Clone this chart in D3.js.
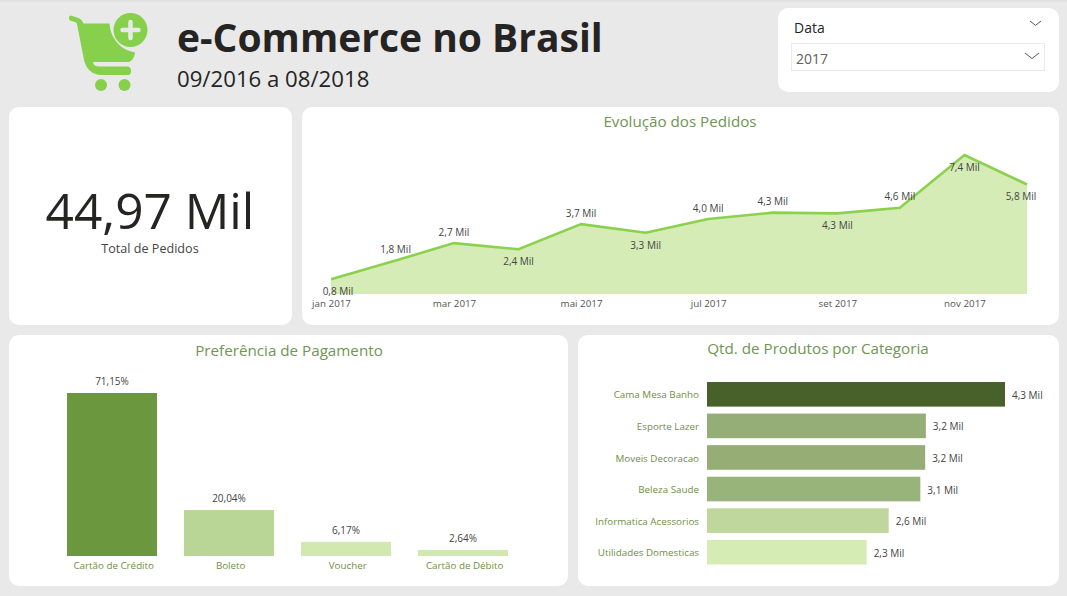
<!DOCTYPE html>
<html>
<head>
<meta charset="utf-8">
<script src="https://d3js.org/d3.v7.min.js"></script>
<style>
  html, body {margin: 0; padding: 0; background: #e9e9e9;}
  svg {display: block; font-family: "Open Sans", sans-serif;}
  .card {fill: #fff;}
  .chartTitle {fill: #6f9653; font-size: 15.2px; text-anchor: middle;}
  .valueLabel {fill: #444; font-size: 10px;}
  .axis path, .axis line {display: none;}
  .axis text {font-family: "Open Sans", sans-serif; font-size: 9.8px;}
</style>
</head>
<body>
<svg id="chart" width="1067" height="596"></svg>
<script>
// dados
var meses = ["2017-01","2017-02","2017-03","2017-04","2017-05","2017-06","2017-07","2017-08","2017-09","2017-10","2017-11","2017-12"];
var pedidos = [0.79, 1.78, 2.71, 2.38, 3.72, 3.26, 3.99, 4.33, 4.29, 4.59, 7.40, 5.83];
var pagamentos = ["Cartão de Crédito", "Boleto", "Voucher", "Cartão de Débito"];
var pagamentosPct = [71.15, 20.04, 6.17, 2.64];
var categorias = ["Cama Mesa Banho", "Esporte Lazer", "Moveis Decoracao", "Beleza Saude", "Informatica Acessorios", "Utilidades Domesticas"];
var categoriasQtd = [4.33, 3.18, 3.17, 3.10, 2.64, 2.32];
var nomesMeses = ["jan","fev","mar","abr","mai","jun","jul","ago","set","out","nov","dez"];

var svg = d3.select("#chart");
var virgula = function(v, casas) { return v.toFixed(casas).replace(".", ","); };
var mil = function(v) { return virgula(v, 1) + " Mil"; };

svg.append("rect").attr("width", 1067).attr("height", 2).attr("fill", "#e2e2e2");

// cartoes de fundo
function card(x, y, w, h) {
  svg.append("rect").attr("class", "card").attr("x", x).attr("y", y).attr("width", w).attr("height", h).attr("rx", 10);
}
card(9, 107, 283, 218);
card(302, 107, 757, 218);
card(9, 335, 559, 251);
card(578, 335, 481, 251);
card(778, 8, 281, 84);

// icone do carrinho
var icone = svg.append("g").attr("fill", "#86d04c");
icone.append("path")
  .attr("d", "M71 15.5 L79 18.3 Q82.5 19.7 83.5 23.5 L109.5 23.5 Q110 37 121 46.5 Q127 51 135 52.5 Q134 60 129 62 L93 62 L93.5 64 Q95 66.5 99 66.5 L128 66.5 Q131 67 131 71 Q131 75 128 75 L102 75 Q88 75 84 60 L77 24 Q76.5 22.5 75 22 L70 20.5 Q68.5 19 69 17 Q70 15 71 15.5 Z");
icone.append("circle").attr("cx", 130.5).attr("cy", 30).attr("r", 17);
icone.append("circle").attr("cx", 101).attr("cy", 85).attr("r", 6);
icone.append("circle").attr("cx", 124.5).attr("cy", 85).attr("r", 6);
svg.append("path").attr("d", "M130.5 22 V38 M122.5 30 H138.5")
  .attr("stroke", "#e9e9e9").attr("stroke-width", 4.5).attr("stroke-linecap", "round");

// cabecalho
svg.append("text").attr("x", 177).attr("y", 52).attr("font-size", 39).attr("font-weight", 700).attr("fill", "#252423").text("e-Commerce no Brasil");
svg.append("text").attr("x", 177).attr("y", 87).attr("font-size", 22.2).attr("fill", "#252423").text("09/2016 a 08/2018");

// filtro de data
svg.append("text").attr("x", 794).attr("y", 33).attr("font-size", 14).attr("fill", "#252423").text("Data");
svg.append("rect").attr("x", 791.5).attr("y", 43.5).attr("width", 253).attr("height", 27).attr("fill", "#fff").attr("stroke", "#eaeaea");
svg.append("text").attr("x", 796).attr("y", 64).attr("font-size", 14).attr("fill", "#605e5c").text("2017");
svg.selectAll(".chevron").data([[1030, 21, 5.5], [1025, 53, 7]]).enter().append("path")
  .attr("class", "chevron")
  .attr("d", function(d) { return "M" + d[0] + " " + d[1] + " l" + d[2] + " " + d[2] * 0.8 + " l" + d[2] + " " + (-d[2] * 0.8); })
  .attr("fill", "none").attr("stroke", "#555");

// total de pedidos
svg.append("text").attr("x", 150).attr("y", 229).attr("text-anchor", "middle").attr("font-size", 49.6).attr("fill", "#252423").text("44,97 Mil");
svg.append("text").attr("x", 150).attr("y", 253).attr("text-anchor", "middle").attr("font-size", 12.6).attr("fill", "#444").text("Total de Pedidos");

// evolucao dos pedidos
svg.append("text").attr("class", "chartTitle").attr("x", 680).attr("y", 127).text("Evolução dos Pedidos");

var parseMes = d3.timeParse("%Y-%m");
var datas = meses.map(parseMes);
var localePt = d3.timeFormatLocale({
  dateTime: "%x %X", date: "%d/%m/%Y", time: "%H:%M:%S", periods: ["", ""],
  days: ["", "", "", "", "", "", ""], shortDays: ["", "", "", "", "", "", ""],
  months: nomesMeses, shortMonths: nomesMeses
});
var xLinha = d3.scaleTime().domain(d3.extent(datas)).range([331, 1027]);
var yLinha = d3.scaleLinear().domain([0, 7.4]).range([294, 155]);
var serie = datas.map(function(d, i) { return {data: d, valor: pedidos[i]}; });

svg.append("path").datum(serie).attr("fill", "#d5ecb7")
  .attr("d", d3.area().x(function(d) { return xLinha(d.data); }).y0(yLinha(0)).y1(function(d) { return yLinha(d.valor); }));
svg.append("path").datum(serie).attr("fill", "none").attr("stroke", "#8bd14e").attr("stroke-width", 2.6)
  .attr("d", d3.line().x(function(d) { return xLinha(d.data); }).y(function(d) { return yLinha(d.valor); }));

var abaixo = ["2017-01", "2017-04", "2017-06", "2017-09", "2017-11", "2017-12"];
svg.selectAll(".rotuloLinha").data(serie).enter().append("text")
  .attr("class", "valueLabel rotuloLinha")
  .attr("text-anchor", "middle")
  .attr("x", function(d, i) {
    // primeiro e ultimo rotulo ficam deslocados para dentro do cartao
    var ajuste = i == 0 ? 7 : (i == serie.length - 1 ? -6 : 0);
    return xLinha(d.data) + ajuste;
  })
  .attr("y", function(d, i) { return yLinha(d.valor) + (abaixo.indexOf(meses[i]) >= 0 ? 16 : -7.5); })
  .text(function(d) { return mil(d.valor); });

svg.append("g").attr("class", "axis").attr("transform", "translate(0,294)")
  .call(d3.axisBottom(xLinha).tickValues(datas.filter(function(d, i) { return i % 2 == 0; })).tickSize(0).tickPadding(6).tickFormat(localePt.format("%b %Y")))
  .selectAll("text").attr("fill", "#555");

// preferencia de pagamento
svg.append("text").attr("class", "chartTitle").attr("x", 289).attr("y", 356).text("Preferência de Pagamento");

var xPag = d3.scaleBand().domain(pagamentos).range([67, 508]).paddingInner(0.2308);
var yPag = d3.scaleLinear().domain([0, 71.15]).range([556, 393]);
var corPag = d3.scaleOrdinal().domain(pagamentos).range(["#6b973e", "#bad696", "#d1e8af", "#d1e8af"]);

svg.selectAll(".barraPag").data(pagamentos).enter().append("rect")
  .attr("class", "barraPag")
  .attr("x", function(d) { return xPag(d); })
  .attr("y", function(d, i) { return yPag(pagamentosPct[i]); })
  .attr("width", xPag.bandwidth())
  .attr("height", function(d, i) { return yPag(0) - yPag(pagamentosPct[i]); })
  .attr("fill", function(d) { return corPag(d); });

svg.selectAll(".rotuloPag").data(pagamentos).enter().append("text")
  .attr("class", "valueLabel rotuloPag")
  .attr("text-anchor", "middle")
  .attr("x", function(d) { return xPag(d) + xPag.bandwidth() / 2; })
  .attr("y", function(d, i) { return yPag(pagamentosPct[i]) - 8; })
  .text(function(d, i) { return virgula(pagamentosPct[i], 2) + "%"; });

svg.append("g").attr("class", "axis").attr("transform", "translate(1.7,556)")
  .call(d3.axisBottom(xPag).tickSize(0).tickPadding(6))
  .selectAll("text").attr("fill", "#6f8f3f");

// produtos por categoria
svg.append("text").attr("class", "chartTitle").attr("x", 818).attr("y", 354).text("Qtd. de Produtos por Categoria");

var xCat = d3.scaleLinear().domain([0, 4.33]).range([707, 1005]);
var yCat = d3.scaleBand().domain(categorias).range([382, 564.5]).paddingInner(0.22);
var corCat = d3.scaleOrdinal().domain(categorias).range(["#486029", "#95ae78", "#96ae76", "#99b47a", "#bfd79d", "#d5ecb5"]);

svg.selectAll(".barraCat").data(categorias).enter().append("rect")
  .attr("class", "barraCat")
  .attr("x", xCat(0))
  .attr("y", function(d) { return yCat(d); })
  .attr("width", function(d, i) { return xCat(categoriasQtd[i]) - xCat(0); })
  .attr("height", yCat.bandwidth())
  .attr("fill", function(d) { return corCat(d); });

svg.selectAll(".rotuloCat").data(categorias).enter().append("text")
  .attr("class", "valueLabel rotuloCat")
  .attr("x", function(d, i) { return xCat(categoriasQtd[i]) + 7; })
  .attr("y", function(d) { return yCat(d) + yCat.bandwidth() / 2 + 1; })
  .attr("dy", "0.35em")
  .text(function(d, i) { return mil(categoriasQtd[i]); });

svg.append("g").attr("class", "axis").attr("transform", "translate(707,1)")
  .call(d3.axisLeft(yCat).tickSize(0).tickPadding(8))
  .selectAll("text").attr("fill", "#6f8f3f");
</script>
</body>
</html>
